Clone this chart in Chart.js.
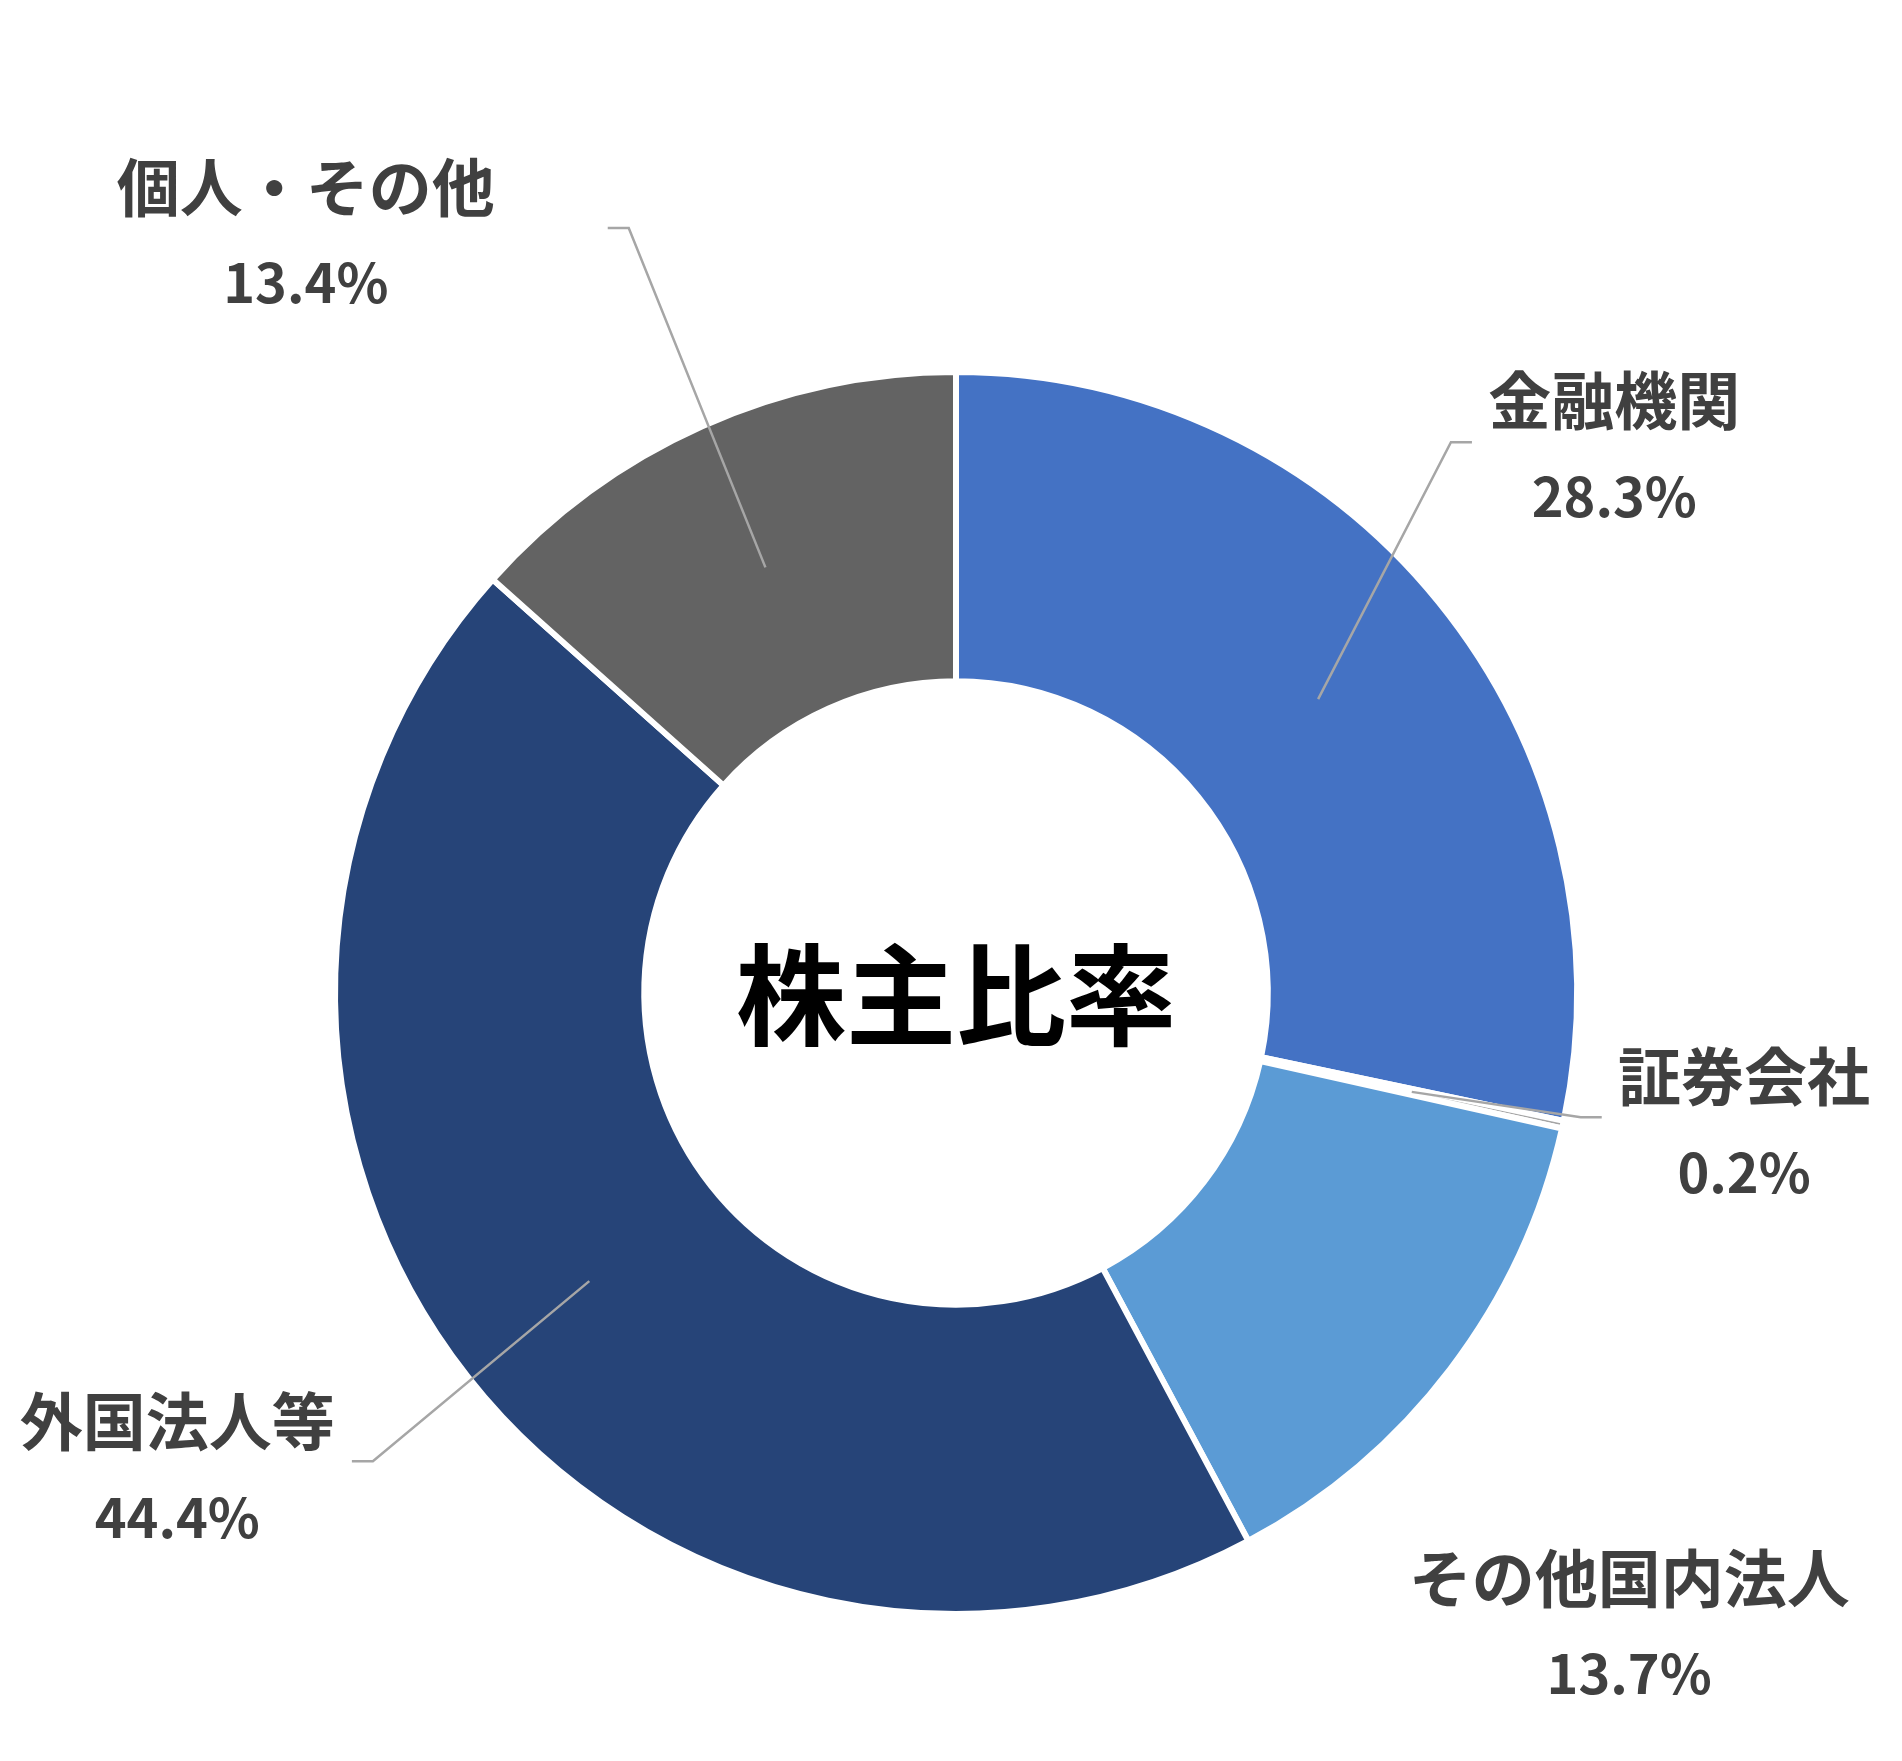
<!DOCTYPE html>
<html lang="ja">

<head>
    <meta charset="UTF-8">
    <title>株主比率</title>
    <style>
        body {
            margin: 0;
            background: #ffffff;
            overflow: hidden;
        }

        #myChart {
            display: block;
        }
    </style>
</head>

<body>
    <canvas id="myChart" width="1902" height="1761"></canvas>

    <script src="https://cdn.jsdelivr.net/npm/chart.js"></script>
    <script>
        // 株主構成データ
        const categories = ['金融機関', '証券会社', 'その他国内法人', '外国法人等', '個人・その他'];
        const shares = [28.3, 0.2, 13.7, 44.4, 13.4];
        const sliceColors = ['#4472C4', '#A5A5A5', '#5B9BD5', '#264478', '#636363'];
        const centerTitle = '株主比率';

        // ラベル位置（中心からの距離、外半径に対する倍率）
        const labelPos = [[1.060, -0.877], [1.269, 0.211], [1.084, 1.019], [-1.254, 0.767], [-1.047, -1.221]];
        // 引き出し線の折れ点（null = 線なし）
        const elbowPos = [[0.797, -0.887], [1.006, 0.200], null, [-0.939, 0.754], [-0.527, -1.232]];

        const fontName = '"Noto Sans CJK JP", "Noto Sans", sans-serif';

        const labelPlugin = {
            id: 'labelPlugin',
            afterDraw: function (chart) {
                const ctx = chart.ctx;
                const meta = chart.getDatasetMeta(0);
                const cx = meta.data[0].x;
                const cy = meta.data[0].y;
                const R = meta.data[0].outerRadius;

                ctx.save();
                // 中央タイトル
                ctx.fillStyle = '#000000';
                ctx.font = 'bold 110px ' + fontName;
                ctx.textAlign = 'center';
                ctx.textBaseline = 'middle';
                ctx.fillText(centerTitle, cx, cy + 2);

                meta.data.forEach(function (arc, i) {
                    const lx = cx + labelPos[i][0] * R;
                    const ly = cy + labelPos[i][1] * R;

                    // 引き出し線
                    if (elbowPos[i]) {
                        const start = arc.tooltipPosition();
                        const ex = cx + elbowPos[i][0] * R;
                        const ey = cy + elbowPos[i][1] * R;
                        const dir = lx > ex ? 1 : -1;
                        ctx.strokeStyle = '#A6A6A6';
                        ctx.lineWidth = 2.5;
                        ctx.beginPath();
                        ctx.moveTo(start.x, start.y);
                        ctx.lineTo(ex, ey);
                        ctx.lineTo(ex + dir * 21, ey);
                        ctx.stroke();
                    }

                    ctx.fillStyle = '#404040';
                    ctx.textAlign = 'center';
                    ctx.textBaseline = 'middle';
                    ctx.font = 'bold 63px ' + fontName;
                    ctx.fillText(categories[i], lx, ly - 48);
                    ctx.font = 'bold 54px ' + fontName;
                    ctx.fillText(shares[i].toFixed(1) + '%', lx, ly + 48);
                });
                ctx.restore();
            }
        };

        const myChart = new Chart(document.getElementById('myChart'), {
            type: 'doughnut',
            data: {
                labels: categories,
                datasets: [{
                    data: shares,
                    backgroundColor: sliceColors,
                    borderColor: '#ffffff',
                    borderWidth: 6
                }]
            },
            options: {
                responsive: false,
                devicePixelRatio: 1,
                animation: false,
                cutout: '50.2%',
                rotation: 0,
                layout: {
                    padding: { left: 332, right: 322, top: 369, bottom: 144 }
                },
                plugins: {
                    legend: { display: false },
                    tooltip: { enabled: false }
                }
            },
            plugins: [labelPlugin]
        });
    </script>
</body>

</html>
